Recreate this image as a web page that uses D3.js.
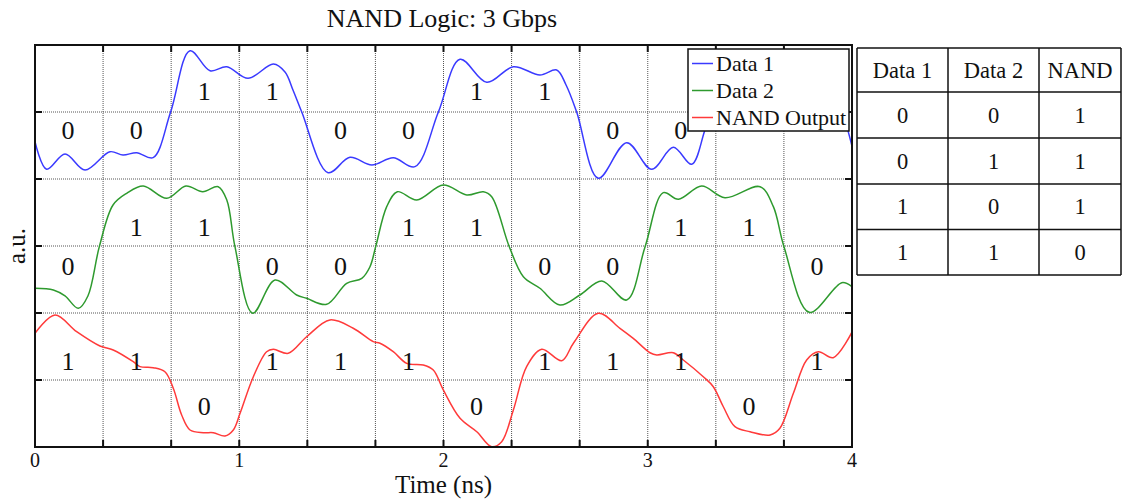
<!DOCTYPE html>
<html>
<head>
<meta charset="utf-8">
<script src="https://cdn.jsdelivr.net/npm/d3@7"></script>
<style>
  html, body { margin: 0; padding: 0; background: #fff; }
  svg { display: block; }
  text { font-family: "Liberation Serif", "Times New Roman", serif; fill: #111; }
</style>
</head>
<body>
<svg id="chart" width="1122" height="499"></svg>
<script>
// ---------------- DATA ----------------
const seriesNames = ["Data 1", "Data 2", "NAND Output"];

// [time (ns), amplitude (a.u.)]
const data1 = [
  [0.000, 4.557], [0.057, 4.145], [0.147, 4.373], [0.245, 4.134], [0.367, 4.407],
  [0.431, 4.358], [0.498, 4.393], [0.578, 4.318], [0.664, 5.000], [0.759, 5.915],
  [0.857, 5.616], [0.939, 5.676], [1.043, 5.503], [1.167, 5.716], [1.224, 5.597],
  [1.263, 5.328], [1.306, 5.000], [1.435, 4.094], [1.542, 4.324], [1.649, 4.209],
  [1.754, 4.318], [1.860, 4.184], [1.975, 5.000], [2.081, 5.787], [2.212, 5.443],
  [2.342, 5.676], [2.472, 5.552], [2.554, 5.627], [2.600, 5.403], [2.652, 5.000],
  [2.758, 4.010], [2.897, 4.542], [3.019, 4.145], [3.125, 4.473], [3.215, 4.219],
  [3.280, 4.731], [3.330, 5.180], [3.427, 5.700], [3.550, 5.630], [3.700, 5.750],
  [3.820, 5.660], [3.920, 5.250], [4.000, 4.490]
];

const data2 = [
  [0.000, 2.369], [0.090, 2.343], [0.147, 2.254], [0.212, 2.070], [0.259, 2.254],
  [0.315, 2.990], [0.382, 3.612], [0.449, 3.787], [0.530, 3.896], [0.645, 3.712],
  [0.739, 3.896], [0.821, 3.810], [0.897, 3.885], [0.939, 3.687], [0.979, 2.990],
  [1.066, 1.996], [1.175, 2.493], [1.281, 2.269], [1.330, 2.219], [1.428, 2.130],
  [1.526, 2.443], [1.600, 2.518], [1.640, 2.691], [1.668, 2.990], [1.722, 3.587],
  [1.774, 3.810], [1.869, 3.687], [1.999, 3.910], [2.114, 3.761], [2.195, 3.810],
  [2.236, 3.736], [2.322, 2.990], [2.391, 2.542], [2.472, 2.369], [2.570, 2.119],
  [2.668, 2.269], [2.775, 2.478], [2.897, 2.194], [2.987, 2.990], [3.076, 3.796],
  [3.150, 3.697], [3.264, 3.896], [3.378, 3.721], [3.550, 3.885], [3.615, 3.587],
  [3.667, 2.990], [3.791, 2.010], [3.950, 2.452], [4.000, 2.393]
];

const nandOut = [
  [0.000, 1.697], [0.098, 1.970], [0.204, 1.721], [0.318, 1.507], [0.383, 1.448],
  [0.481, 1.273], [0.514, 1.199], [0.579, 1.184], [0.636, 1.124], [0.677, 0.876],
  [0.718, 0.478], [0.759, 0.254], [0.824, 0.213], [0.873, 0.213], [0.930, 0.164],
  [0.971, 0.254], [1.004, 0.503], [1.069, 1.049], [1.134, 1.422], [1.167, 1.458],
  [1.240, 1.399], [1.330, 1.646], [1.444, 1.896], [1.558, 1.772], [1.656, 1.572],
  [1.689, 1.548], [1.754, 1.422], [1.820, 1.249], [1.901, 1.224], [1.950, 1.149],
  [1.999, 0.851], [2.081, 0.428], [2.163, 0.228], [2.236, 0.004], [2.285, 0.079],
  [2.342, 0.552], [2.407, 1.199], [2.481, 1.458], [2.579, 1.288], [2.636, 1.548],
  [2.758, 1.996], [2.864, 1.772], [2.929, 1.622], [3.011, 1.407], [3.044, 1.373],
  [3.125, 1.407], [3.174, 1.299], [3.272, 1.049], [3.321, 0.900], [3.370, 0.601],
  [3.427, 0.303], [3.501, 0.228], [3.599, 0.179], [3.647, 0.279], [3.713, 0.801],
  [3.778, 1.299], [3.835, 1.422], [3.908, 1.333], [4.001, 1.721]
];

// bit values annotated on each waveform (one per 1/3 ns bit slot;
// the last two Data 1 labels are hidden by the legend in the reference)
const bitsData1 = [0, 0, 1, 1, 0, 0, 1, 1, 0, 0];
const bitsData2 = [0, 1, 1, 0, 0, 1, 1, 0, 0, 1, 1, 0];
const bitsNand  = [1, 1, 0, 1, 1, 1, 0, 1, 1, 1, 0, 1];

const bitRate = 3;                 // Gbps
const xTickLabels = [0, 1, 2, 3, 4];

const tableHeader = ["Data 1", "Data 2", "NAND"];
const tableRows = [
  [0, 0, 1],
  [0, 1, 1],
  [1, 0, 1],
  [1, 1, 0]
];

// ---------------- LAYOUT / STYLE ----------------
const plot = { left: 35, top: 45, width: 817, height: 402 };
const colors = ["#3a3aff", "#2e9a2e", "#ff3a3a"];
const fontFam = '"Liberation Serif", "Times New Roman", serif';
// label levels (a.u.) for bit 0 / bit 1 per series
const labelLevels = [
  { 0: 4.72, 1: 5.30 },
  { 0: 2.69, 1: 3.27 },
  { 0: 0.60, 1: 1.27 }
];

const svg = d3.select("#chart");

const x = d3.scaleLinear().domain([0, 4]).range([plot.left, plot.left + plot.width]);
const y = d3.scaleLinear().domain([0, 6]).range([plot.top + plot.height, plot.top]);

const gridX = d3.range(0, 13).map(i => i / bitRate);
const gridY = d3.range(0, 7);

// clip
svg.append("defs").append("clipPath").attr("id", "clip")
  .append("rect").attr("x", plot.left).attr("y", plot.top)
  .attr("width", plot.width).attr("height", plot.height);

// grid
const grid = svg.append("g");
grid.selectAll("line.gx").data(gridX.slice(1, -1)).join("line")
  .attr("x1", d => x(d)).attr("x2", d => x(d))
  .attr("y1", plot.top).attr("y2", plot.top + plot.height)
  .attr("stroke", "#555").attr("stroke-width", 1).attr("stroke-dasharray", "1,1");
grid.selectAll("line.gy").data(gridY.slice(1, -1)).join("line")
  .attr("y1", d => y(d)).attr("y2", d => y(d))
  .attr("x1", plot.left).attr("x2", plot.left + plot.width)
  .attr("stroke", "#555").attr("stroke-width", 1).attr("stroke-dasharray", "1,1");

// curves
const line = d3.line().x(d => x(d[0])).y(d => y(d[1])).curve(d3.curveCatmullRom.alpha(0.5));
const allSeries = [data1, data2, nandOut];
svg.append("g").attr("clip-path", "url(#clip)")
  .selectAll("path").data(allSeries).join("path")
  .attr("d", line).attr("fill", "none")
  .attr("stroke", (d, i) => colors[i]).attr("stroke-width", 1.5);

// bit labels
const allBits = [bitsData1, bitsData2, bitsNand];
allBits.forEach((bits, si) => {
  svg.append("g").selectAll("text").data(bits).join("text")
    .attr("x", (d, k) => x((k + 0.5) / bitRate) - 1)
    .attr("y", d => y(labelLevels[si][d]))
    .attr("text-anchor", "middle").attr("dominant-baseline", "central")
    .style("font-size", "26px").style("font-family", fontFam)
    .text(d => d);
});

// frame
svg.append("rect").attr("x", plot.left).attr("y", plot.top)
  .attr("width", plot.width).attr("height", plot.height)
  .attr("fill", "none").attr("stroke", "#111").attr("stroke-width", 2);

// ticks (inward, all four sides)
const tickLen = 7;
const ticks = svg.append("g").attr("stroke", "#111").attr("stroke-width", 2);
gridX.forEach(t => {
  ticks.append("line").attr("x1", x(t)).attr("x2", x(t))
    .attr("y1", plot.top + plot.height).attr("y2", plot.top + plot.height - tickLen);
  ticks.append("line").attr("x1", x(t)).attr("x2", x(t))
    .attr("y1", plot.top).attr("y2", plot.top + tickLen);
});
gridY.forEach(v => {
  ticks.append("line").attr("y1", y(v)).attr("y2", y(v))
    .attr("x1", plot.left).attr("x2", plot.left + tickLen);
  ticks.append("line").attr("y1", y(v)).attr("y2", y(v))
    .attr("x1", plot.left + plot.width).attr("x2", plot.left + plot.width - tickLen);
});

// x tick labels
svg.append("g").selectAll("text").data(xTickLabels).join("text")
  .attr("x", d => x(d)).attr("y", 466.5)
  .attr("text-anchor", "middle").style("font-size", "20px").style("font-family", fontFam)
  .text(d => d);

// axis titles
svg.append("text").attr("x", x(2)).attr("y", 493)
  .attr("text-anchor", "middle").style("font-size", "25px").style("font-family", fontFam)
  .text("Time (ns)");
svg.append("text").attr("transform", "translate(25," + y(3) + ") rotate(-90)")
  .attr("text-anchor", "middle").style("font-size", "25px").style("font-family", fontFam)
  .text("a.u.");
svg.append("text").attr("x", 442).attr("y", 27)
  .attr("text-anchor", "middle").style("font-size", "26px").style("font-family", fontFam)
  .text("NAND Logic: 3 Gbps");

// legend
const lg = svg.append("g");
lg.append("rect").attr("x", 688).attr("y", 49).attr("width", 161).attr("height", 82)
  .attr("fill", "#fff").attr("stroke", "#111").attr("stroke-width", 1.5);
seriesNames.forEach((name, i) => {
  const ly = 63.5 + i * 27;
  lg.append("line").attr("x1", 692).attr("x2", 713).attr("y1", ly).attr("y2", ly)
    .attr("stroke", colors[i]).attr("stroke-width", 1.5);
  lg.append("text").attr("x", 716).attr("y", ly + 7.5)
    .style("font-size", "22px").style("font-family", fontFam).text(name);
});

// truth table
const tb = { left: 857, top: 48, colW: [91, 91, 82], rowH: [44, 46, 46, 45.5, 45.5] };
const colX = [tb.left];
tb.colW.forEach(w => colX.push(colX[colX.length - 1] + w));
const rowY = [tb.top];
tb.rowH.forEach(h => rowY.push(rowY[rowY.length - 1] + h));
const tg = svg.append("g");
rowY.forEach(ry => tg.append("line").attr("x1", colX[0]).attr("x2", colX[3])
  .attr("y1", ry).attr("y2", ry).attr("stroke", "#111").attr("stroke-width", 1.5));
colX.forEach(cx => tg.append("line").attr("x1", cx).attr("x2", cx)
  .attr("y1", rowY[0]).attr("y2", rowY[5]).attr("stroke", "#111").attr("stroke-width", 1.5));
const tableData = [tableHeader].concat(tableRows);
tableData.forEach((row, r) => {
  row.forEach((cell, c) => {
    tg.append("text")
      .attr("x", (colX[c] + colX[c + 1]) / 2)
      .attr("y", (rowY[r] + rowY[r + 1]) / 2)
      .attr("text-anchor", "middle").attr("dominant-baseline", "central")
      .style("font-size", "22.5px").style("font-family", fontFam)
      .text(cell);
  });
});
</script>
</body>
</html>
